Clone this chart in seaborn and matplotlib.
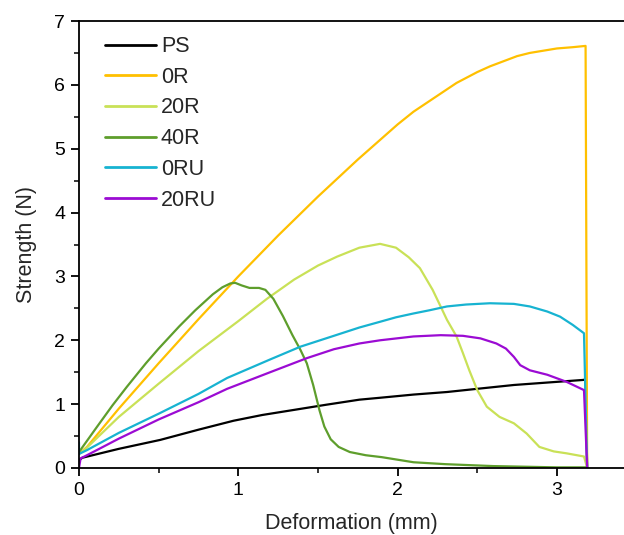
import pandas as pd
import seaborn as sns
import matplotlib.pyplot as plt
from matplotlib.ticker import MultipleLocator

# curves (deformation in mm, strength in N)
ps_x = [0.0, 0.02, 0.25, 0.51, 0.75, 0.97, 1.15, 1.35, 1.55, 1.76, 1.89, 2.1, 2.31, 2.5, 2.73, 2.95, 3.17, 3.18, 3.19]
ps_y = [0.12, 0.16, 0.3, 0.44, 0.6, 0.74, 0.83, 0.91, 0.99, 1.07, 1.1, 1.15, 1.19, 1.24, 1.3, 1.34, 1.38, 1.4, 0.0]

r0_x = [0.0, 0.05, 0.25, 0.5, 0.75, 1.0, 1.25, 1.5, 1.75, 2.0, 2.1, 2.25, 2.37, 2.5, 2.58, 2.75, 2.83,
        3.0, 3.1, 3.18, 3.19]
r0_y = [0.22, 0.33, 0.93, 1.64, 2.33, 3.0, 3.64, 4.25, 4.83, 5.38, 5.58, 5.83, 6.03, 6.2, 6.29, 6.45, 6.5,
        6.57, 6.59, 6.61, 0.0]

r20_x = [0.0, 0.05, 0.25, 0.5, 0.75, 1.0, 1.18, 1.35, 1.5, 1.62, 1.76, 1.89, 1.99, 2.07, 2.14, 2.22,
         2.27, 2.31, 2.37, 2.41, 2.45, 2.5, 2.56, 2.64, 2.73, 2.81, 2.89, 2.98, 3.06, 3.17, 3.19]
r20_y = [0.22, 0.32, 0.8, 1.32, 1.83, 2.3, 2.65, 2.95, 3.17, 3.31, 3.45, 3.51, 3.45, 3.3, 3.13, 2.79,
         2.53, 2.32, 2.06, 1.8, 1.53, 1.22, 0.96, 0.8, 0.7, 0.54, 0.33, 0.26, 0.23, 0.18, 0.0]

r40_x = [0.0, 0.1, 0.21, 0.3, 0.42, 0.5, 0.63, 0.73, 0.84, 0.9, 0.95, 0.98, 1.02, 1.07, 1.13, 1.17, 1.22,
         1.28, 1.34, 1.39, 1.43, 1.47, 1.51, 1.54, 1.58, 1.63, 1.7, 1.8, 1.9, 2.0, 2.1, 2.3, 2.6,
         3.0, 3.19, 3.19]
r40_y = [0.25, 0.6, 0.98, 1.27, 1.64, 1.87, 2.22, 2.47, 2.72, 2.83, 2.89, 2.9, 2.86, 2.82, 2.82, 2.79, 2.65,
         2.38, 2.08, 1.85, 1.64, 1.3, 0.9, 0.65, 0.45, 0.33, 0.25, 0.2, 0.17, 0.13, 0.09, 0.06, 0.03,
         0.01, 0.01, 0.0]

ru0_x = [0.0, 0.0, 0.05, 0.25, 0.5, 0.75, 0.93, 1.2, 1.39, 1.6, 1.76, 1.89, 1.99, 2.1, 2.2, 2.31, 2.43,
         2.58, 2.73, 2.83, 2.94, 3.02, 3.1, 3.17, 3.19]
ru0_y = [0.4, 0.22, 0.28, 0.55, 0.85, 1.16, 1.41, 1.7, 1.9, 2.07, 2.2, 2.29, 2.36, 2.42, 2.47, 2.53, 2.56,
         2.58, 2.57, 2.53, 2.45, 2.37, 2.24, 2.11, 0.0]

ru20_x = [0.0, 0.01, 0.05, 0.25, 0.5, 0.75, 0.93, 1.2, 1.43, 1.6, 1.76, 1.89, 2.1, 2.27, 2.41, 2.52,
          2.62, 2.68, 2.73, 2.77, 2.83, 2.94, 3.06, 3.17, 3.19]
ru20_y = [0.0, 0.15, 0.2, 0.46, 0.76, 1.03, 1.24, 1.5, 1.72, 1.86, 1.95, 2.0, 2.06, 2.08, 2.07, 2.03,
          1.95, 1.87, 1.74, 1.61, 1.53, 1.46, 1.35, 1.22, 0.0]

labels = ["PS", "0R", "20R", "40R", "0RU", "20RU"]
colors = ["#000000", "#FFC000", "#C9E157", "#5E9E2C", "#17B3D1", "#9B0BD3"]
xs = [ps_x, r0_x, r20_x, r40_x, ru0_x, ru20_x]
ys = [ps_y, r0_y, r20_y, r40_y, ru0_y, ru20_y]

frames = []
for lab, x, y in zip(labels, xs, ys):
    frames.append(pd.DataFrame({"Deformation": x, "Strength": y, "sample": lab}))
df = pd.concat(frames, ignore_index=True)

sns.set_theme(style="ticks")
plt.rcParams["font.family"] = ["Liberation Sans", "DejaVu Sans"]

fig = plt.figure(figsize=(6.24, 5.35), dpi=100)
ax = fig.add_axes([79 / 624, 67 / 535, 545 / 624, 447 / 535])

sns.lineplot(data=df, x="Deformation", y="Strength", hue="sample", hue_order=labels,
             palette=dict(zip(labels, colors)), estimator=None, sort=False, units="sample",
             linewidth=1.6, ax=ax)

ax.set_xlim(0, 545 / 159.3)
ax.set_ylim(0, 7)
ax.xaxis.set_major_locator(MultipleLocator(1))
ax.xaxis.set_minor_locator(MultipleLocator(0.5))
ax.yaxis.set_major_locator(MultipleLocator(1))
ax.yaxis.set_minor_locator(MultipleLocator(0.5))
ax.tick_params(which="major", direction="out", length=6, width=1.3, labelsize=14, colors="black", pad=4)
ax.tick_params(which="minor", direction="out", length=3.5, width=1.3)
ax.tick_params(top=False, right=False)
for side in ["left", "bottom", "top"]:
    ax.spines[side].set_linewidth(1.3)
    ax.spines[side].set_color("black")
ax.spines["right"].set_visible(False)

ax.set_xlabel("Deformation (mm)", fontsize=15.5, labelpad=10)
ax.set_ylabel("Strength (N)", fontsize=15.5, labelpad=12)

leg = ax.legend(loc="upper left", frameon=False, fontsize=15.5, handlelength=2.35,
                handletextpad=0.25, labelspacing=0.45, borderaxespad=0.3,
                bbox_to_anchor=(0.02, 1.0))
for h in leg.get_lines():
    h.set_linewidth(2.0)

fig.savefig("out.png", dpi=100)
